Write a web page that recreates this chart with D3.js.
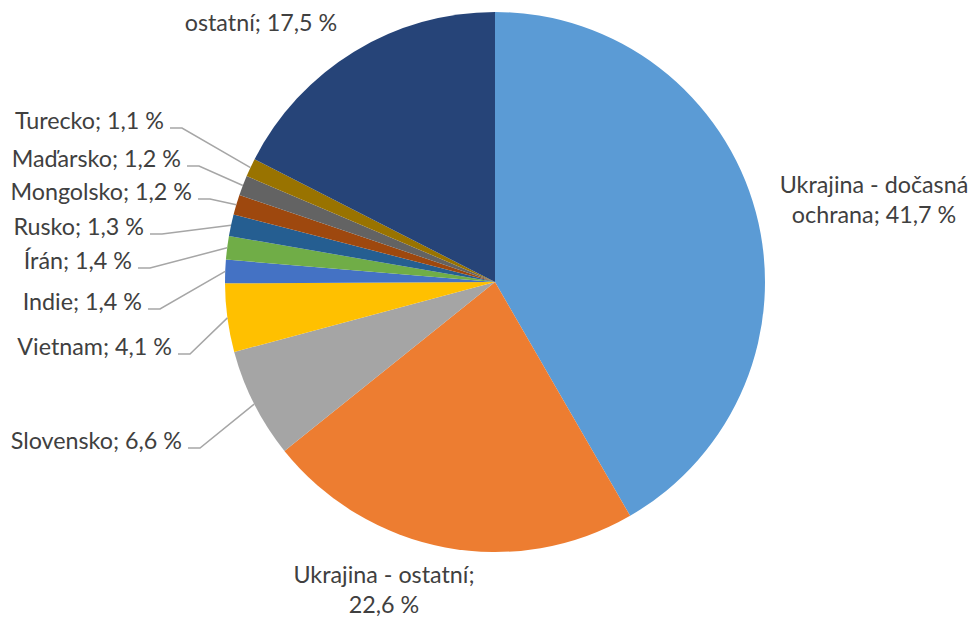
<!DOCTYPE html>
<html>
<head>
<meta charset="utf-8">
<script src="https://cdn.jsdelivr.net/npm/d3@7"></script>
<style>
  html, body { margin: 0; padding: 0; background: #fff; }
  svg { display: block; }
  text { font-family: Lato, "Open Sans", sans-serif; fill: #404040; }
</style>
</head>
<body>
<svg id="chart" width="972" height="617"></svg>
<script>
// ---- data ----
const categories = ["Ukrajina - dočasná ochrana", "Ukrajina - ostatní", "Slovensko", "Vietnam", "Indie", "Írán", "Rusko", "Mongolsko", "Maďarsko", "Turecko", "ostatní"];
const values = [41.7, 22.6, 6.6, 4.1, 1.4, 1.4, 1.3, 1.2, 1.2, 1.1, 17.5];
const labelLines = [
  ["Ukrajina - dočasná", "ochrana; 41,7 %"],
  ["Ukrajina - ostatní;", "22,6 %"],
  ["Slovensko; 6,6 %"],
  ["Vietnam; 4,1 %"],
  ["Indie; 1,4 %"],
  ["Írán; 1,4 %"],
  ["Rusko; 1,3 %"],
  ["Mongolsko; 1,2 %"],
  ["Maďarsko; 1,2 %"],
  ["Turecko; 1,1 %"],
  ["ostatní; 17,5 %"]
];
const colors = ["#5B9BD5", "#ED7D31", "#A5A5A5", "#FFC000", "#4472C4", "#70AD47", "#255E91", "#9E480E", "#636363", "#997300", "#264478"];

// ---- layout (label placement) ----
const labelLayout = [
  { type: "block", x: 874, y: 193 },
  { type: "block", x: 384, y: 583 },
  { type: "leader", x: 188, y: 448 },
  { type: "leader", x: 178, y: 354 },
  { type: "leader", x: 148, y: 309 },
  { type: "leader", x: 138, y: 268 },
  { type: "leader", x: 150, y: 234 },
  { type: "leader", x: 198, y: 199 },
  { type: "leader", x: 187, y: 166 },
  { type: "leader", x: 170, y: 128 },
  { type: "block", x: 261, y: 31 }
];

const cx = 495, cy = 282, R = 270;
const fontSize = 23.3, lineH = 30;

const svg = d3.select("#chart");
const g = svg.append("g").attr("transform", `translate(${cx},${cy})`);

const pie = d3.pie().sort(null).value(d => d.value);
const data = categories.map((c, i) => ({ name: c, value: values[i], idx: i }));
const arcs = pie(data);
const arc = d3.arc().innerRadius(0).outerRadius(R);

g.selectAll("path.slice")
  .data(arcs)
  .join("path")
  .attr("class", "slice")
  .attr("d", arc)
  .attr("fill", d => colors[d.data.idx]);

const lg = svg.append("g");
arcs.forEach(a => {
  const i = a.data.idx;
  const L = labelLayout[i];
  if (L.type === "block") {
    const t = lg.append("text")
      .attr("text-anchor", "middle")
      .attr("font-size", fontSize);
    labelLines[i].forEach((ln, k) => {
      t.append("tspan").attr("x", L.x).attr("y", L.y + k * lineH).text(ln);
    });
  } else {
    const mid = (a.startAngle + a.endAngle) / 2;
    const px = cx + R * Math.sin(mid);
    const py = cy - R * Math.cos(mid);
    const hx = L.x + 12;
    lg.append("path")
      .attr("d", d3.line()([[L.x, L.y], [hx, L.y], [px, py]]))
      .attr("fill", "none")
      .attr("stroke", "#A6A6A6")
      .attr("stroke-width", 1.5);
    lg.append("text")
      .attr("text-anchor", "end")
      .attr("font-size", fontSize)
      .attr("x", L.x - 6)
      .attr("y", L.y + 1)
      .text(labelLines[i][0]);
  }
});
</script>
</body>
</html>
